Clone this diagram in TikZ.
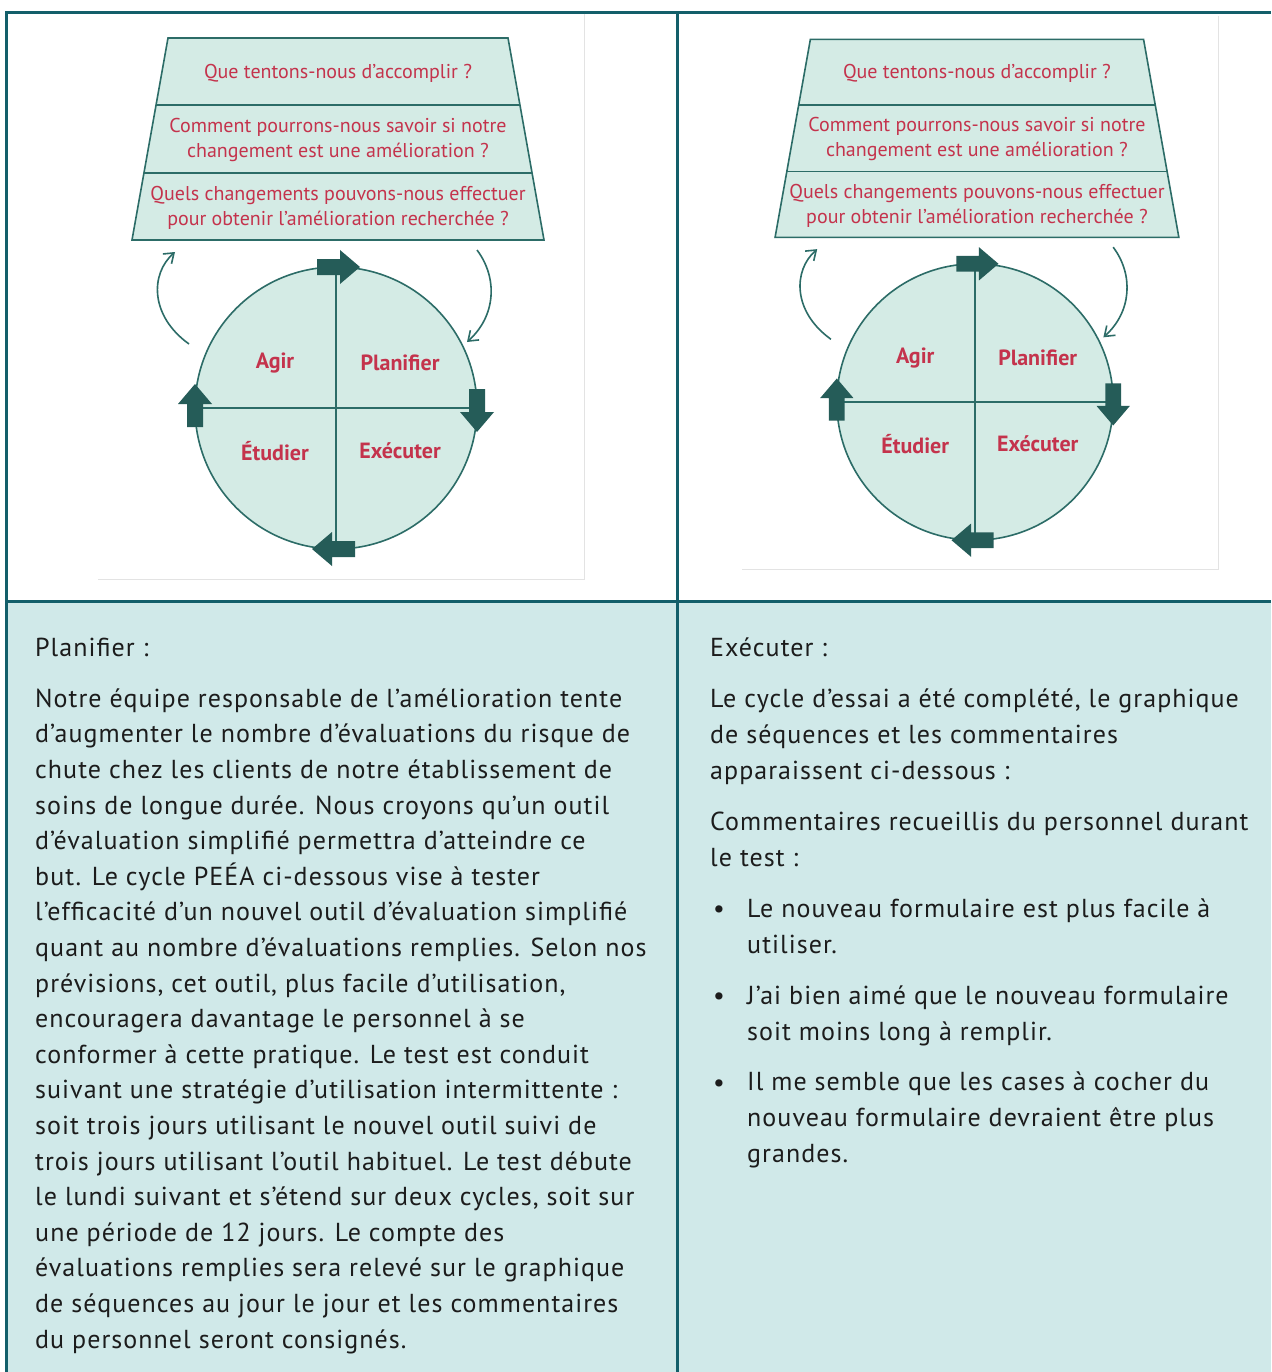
\documentclass[tikz,border=0pt]{standalone}
\usepackage{fontspec}
\setmainfont{PT Sans}
\newfontfamily\corps[LetterSpace=4]{PT Sans}
\usetikzlibrary{arrows.meta}
\definecolor{Sarcelle}{HTML}{135F6A}
\definecolor{Menthe}{HTML}{D0E9E9}
\definecolor{MentheSchema}{HTML}{D4EBE5}
\definecolor{TraitSchema}{HTML}{2C6C67}
\definecolor{Framboise}{HTML}{C4334C}
\definecolor{Encre}{HTML}{1C1C1C}

\begin{document}
\begin{tikzpicture}[
  x=1pt,y=-1pt,
  cadre/.style={line width=3pt,draw=Sarcelle},
  schema/.style={draw=TraitSchema,line width=1.6pt},
  question/.style={text=Framboise,font=\fontsize{20}{25}\selectfont,align=center,inner sep=0pt},
  etape/.style={text=Framboise,font=\bfseries\fontsize{22}{24}\selectfont,inner sep=0pt},
  bloc/.style={fill=TraitSchema!85!black},
  retour/.style={draw=TraitSchema,line width=1.6pt,-{Straight Barb[length=9pt,width=13pt]}},
  texte/.style={text=Encre,font=\corps\fontsize{26}{35.6}\selectfont,align=left,inner sep=0pt,anchor=base west}
]
  \useasboundingbox (0,0) rectangle (1271,1372);
  \fill[white] (0,0) rectangle (1271,1372);

  % cellules du tableau
  \fill[Menthe] (6.5,601.5) rectangle (1271,1372);
  \draw[cadre] (6.5,1372) -- (6.5,13) -- (1271,13);
  \draw[cadre] (677,13) -- (677,1372);
  \draw[cadre] (6.5,601.5) -- (1271,601.5);

  % les deux schemas PEEA
  \foreach \i/\cx/\cy/\k in {g/336/408/1, d/975/402/0.98} {
    \begin{scope}[shift={(\cx,\cy)},scale=\k]
      \draw[gray!22,line width=1pt] (248,-394) -- (248,171) -- (-238,171);
      \filldraw[schema,fill=MentheSchema]
        (-168,-370) -- (172,-370) -- (208,-168) -- (-204,-168) -- cycle;
      \draw[schema] (-180,-303) -- (184,-303);
      \draw[schema] (-192,-235) -- (196,-235);
      \node[question] (but\i) at (2,-335) {Que tentons-nous d'accomplir ?};
      \node[question] (mesure\i) at (2,-268)
        {Comment pourrons-nous savoir si notre\\changement est une amélioration ?};
      \node[question] (idee\i) at (2,-200)
        {Quels changements pouvons-nous effectuer\\pour obtenir l'amélioration recherchée ?};

      \filldraw[schema,fill=MentheSchema] (0,0) circle[radius=141];
      \draw[schema] (0,-141) -- (0,141);
      \draw[schema] (-141,0) -- (141,0);
      \foreach \px/\py/\ang in {0/-141/0, 141/0/-90, 0/141/180, -141/0/90}
        \fill[bloc,shift={(\px,\py)},rotate=\ang]
          (-19,-8) -- (4,-8) -- (4,-17) -- (24,0) -- (4,17) -- (4,8) -- (-19,8) -- cycle;

      \coordinate (agirDepart\i) at (-147,-64);
      \coordinate (agirFin\i) at (-161,-156);
      \draw[retour] (agirDepart\i) .. controls (-186,-92) and (-186,-134) .. (agirFin\i);
      \coordinate (planDepart\i) at (141,-158);
      \coordinate (planFin\i) at (131,-66);
      \draw[retour] (planDepart\i) .. controls (162,-130) and (160,-92) .. (planFin\i);

      \node[etape] (agir\i) at (-61,-45) {Agir};
      \node[etape] (planifier\i) at (64,-45) {Planifier};
      \node[etape] (etudier\i) at (-61,43) {Étudier};
      \node[etape] (executer\i) at (64,43) {Exécuter};
    \end{scope}
  }

  % cellule Planifier (ancre sur la ligne de base de la derniere ligne)
  \node[texte] (titrePlan) at (35,656) {Planifier :};
  \node[texte] (textePlan) at (35,1348)
    {Notre équipe responsable de l’amélioration tente\\
     d’augmenter le nombre d’évaluations du risque de\\
     chute chez les clients de notre établissement de\\
     soins de longue durée. Nous croyons qu’un outil\\
     d’évaluation simplifié permettra d’atteindre ce\\
     but. Le cycle PEÉA ci-dessous vise à tester\\
     l’efficacité d’un nouvel outil d’évaluation simplifié\\
     quant au nombre d’évaluations remplies. Selon nos\\
     prévisions, cet outil, plus facile d’utilisation,\\
     encouragera davantage le personnel à se\\
     conformer à cette pratique. Le test est conduit\\
     suivant une stratégie d’utilisation intermittente :\\
     soit trois jours utilisant le nouvel outil suivi de\\
     trois jours utilisant l’outil habituel. Le test débute\\
     le lundi suivant et s’étend sur deux cycles, soit sur\\
     une période de 12 jours. Le compte des\\
     évaluations remplies sera relevé sur le graphique\\
     de séquences au jour le jour et les commentaires\\
     du personnel seront consignés.};

  % cellule Executer
  \node[texte] (titreExec) at (710,656) {Exécuter :};
  \node[texte] (texteExec) at (710,779)
    {Le cycle d’essai a été complété, le graphique\\
     de séquences et les commentaires\\
     apparaissent ci-dessous :};
  \node[texte] (commentaires) at (710,866)
    {Commentaires recueillis du personnel durant\\le test :};
  \node[texte] (puceA) at (713,917) {•};
  \node[texte] (itemA) at (747,953)
    {Le nouveau formulaire est plus facile à\\utiliser.};
  \node[texte] (puceB) at (713,1004) {•};
  \node[texte] (itemB) at (747,1040)
    {J’ai bien aimé que le nouveau formulaire\\soit moins long à remplir.};
  \node[texte] (puceC) at (713,1091) {•};
  \node[texte] (itemC) at (747,1162)
    {Il me semble que les cases à cocher du\\nouveau formulaire devraient être plus\\grandes.};
\end{tikzpicture}
\end{document}
